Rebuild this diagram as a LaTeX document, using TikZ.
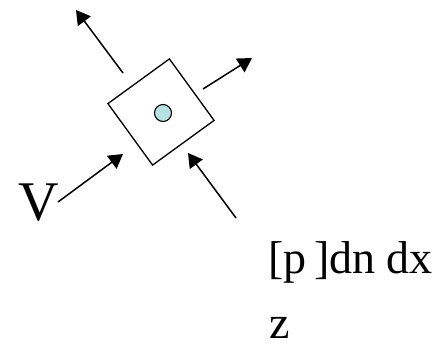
\documentclass[tikz,border=0pt]{standalone}
\usepackage{fontspec}
\setmainfont{Liberation Serif}
\usetikzlibrary{arrows.meta,positioning}
\definecolor{DotCyan}{HTML}{B8E2E2}
\begin{document}
\begin{tikzpicture}[x=1pt,y=-1pt,>={Triangle[length=14pt,width=16pt]},
  flow/.style={->,line width=1.5pt},
  cell/.style={draw,line width=1.3pt,rectangle,minimum size=76pt,inner sep=0pt,rotate=36}]
  \useasboundingbox (0,0) rectangle (442,353);
  \node[cell] (box) at (161,112) {};
  \node[draw,fill=DotCyan,circle,line width=1.1pt,minimum size=17pt,inner sep=0pt] (dot) at (163,113) {};
  % outgoing
  \coordinate (ulstart) at (123,73);
  \coordinate (ulend) at (76,10);
  \coordinate (rstart) at (203,89);
  \coordinate (rend) at (252,58);
  \draw[flow] (ulstart)--(ulend);
  \draw[flow] (rstart)--(rend);
  % incoming
  \node[anchor=base,font=\fontsize{56}{62}\selectfont,inner sep=0pt] (vel) at (39,220) {V};
  \coordinate (vstart) at (58,202);
  \coordinate (vend) at (123,154);
  \draw[flow] (vstart)--(vend);
  \coordinate (pstart) at (236,218);
  \coordinate (pend) at (188,153);
  \draw[flow] (pstart)--(pend);
  \node[anchor=base west,font=\fontsize{46}{52}\selectfont,inner sep=0pt] (press) at (268,273) {[p\,]dn dx};
  \node[anchor=base west,font=\fontsize{46}{52}\selectfont,inner sep=0pt] (zed) at (269,338) {z};
\end{tikzpicture}
\end{document}
